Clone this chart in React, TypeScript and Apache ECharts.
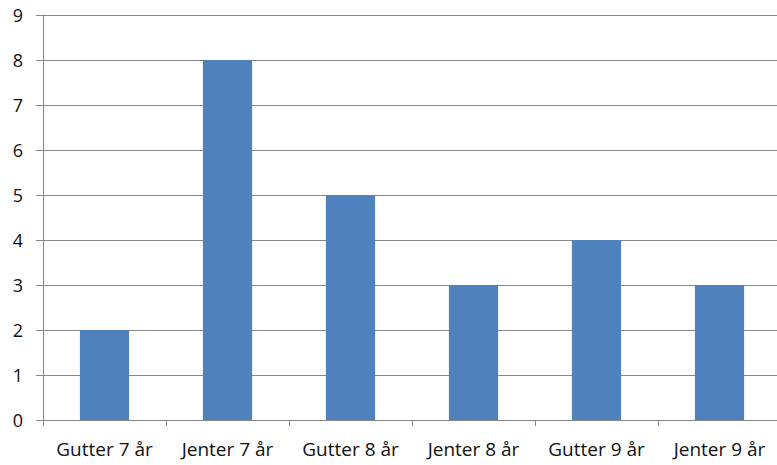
import React, { useEffect, useRef } from "react";
import * as echarts from "echarts";

const categories = ["Gutter 7 år", "Jenter 7 år", "Gutter 8 år", "Jenter 8 år", "Gutter 9 år", "Jenter 9 år"];
const values = [2, 8, 5, 3, 4, 3];
const yMin = 0;
const yMax = 9;
const yInterval = 1;

export default function App() {
  const ref = useRef<HTMLDivElement>(null);
  useEffect(() => {
    if (!ref.current) return;
    const chart = echarts.init(ref.current, undefined, { renderer: "svg" });
    const gray = "#878787";
    const font = "'Open Sans', 'Noto Sans', sans-serif";
    chart.setOption({
      animation: false,
      backgroundColor: "#ffffff",
      grid: {
        left: 43,
        top: 15,
        height: 405,
        width: 738,
        containLabel: false,
        outerBoundsMode: "none",
      },
      xAxis: {
        type: "category",
        data: categories,
        boundaryGap: true,
        axisLine: { show: true, lineStyle: { color: gray, width: 1 } },
        axisTick: { show: true, length: 6, alignWithLabel: false, lineStyle: { color: gray } },
        axisLabel: { color: "#111111", fontFamily: font, fontSize: 19, margin: 19, interval: 0 },
        splitLine: { show: false },
      },
      yAxis: {
        type: "value",
        min: yMin,
        max: yMax,
        interval: yInterval,
        axisLine: { show: true, lineStyle: { color: gray, width: 1 } },
        axisTick: { show: true, length: 7, lineStyle: { color: gray } },
        axisLabel: { color: "#111111", fontFamily: font, fontSize: 18, margin: 20 },
        splitLine: { show: true, lineStyle: { color: gray, width: 1 } },
      },
      series: [
        {
          type: "bar",
          data: values,
          barCategoryGap: "60%",
          itemStyle: { color: "#4F81BD" },
        },
      ],
    });
    return () => chart.dispose();
  }, []);
  return (
    <div
      ref={ref}
      style={{ position: "absolute", left: 0, top: 0, width: 777, height: 465 }}
    />
  );
}
